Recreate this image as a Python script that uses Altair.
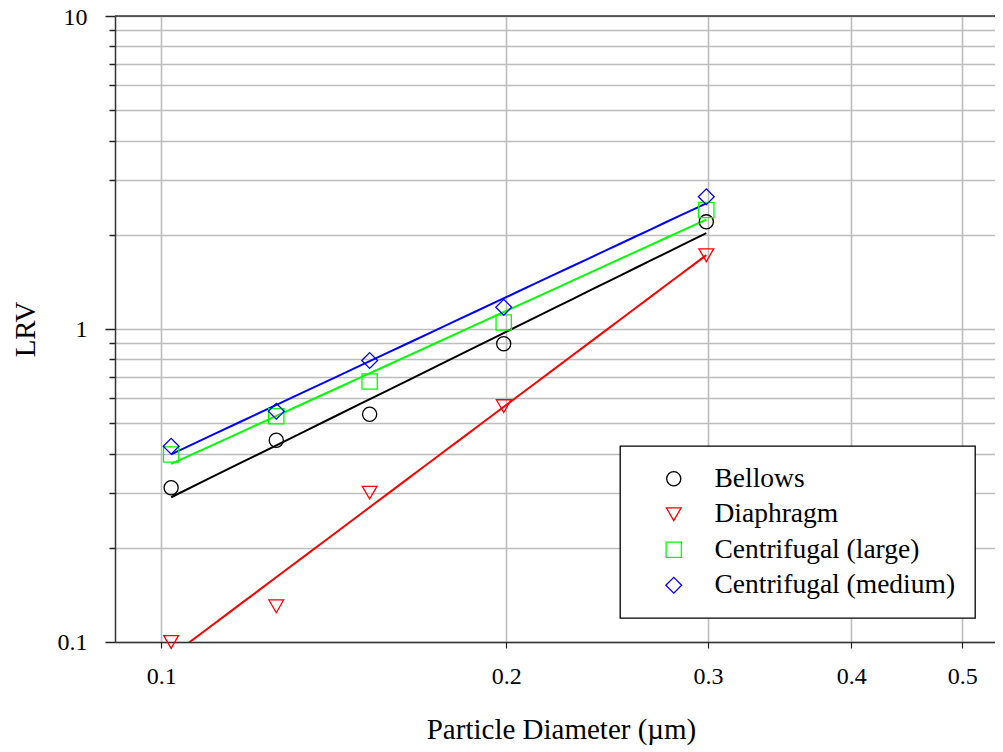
import altair as alt
import pandas as pd

# ---- data ----
diameter = [0.102, 0.126, 0.152, 0.199, 0.299]
bellows = [0.311, 0.441, 0.534, 0.897, 2.20]
diaphragm = [0.100, 0.130, 0.300, 0.567, 1.72]
centrifugal_large = [0.397, 0.526, 0.680, 1.049, 2.40]
centrifugal_medium = [0.422, 0.546, 0.793, 1.173, 2.646]

series = ["Bellows", "Diaphragm", "Centrifugal (large)", "Centrifugal (medium)"]
colors = ["#000000", "#ff0000", "#00ff00", "#0000ff"]
shapes = ["circle", "triangle-down", "square", "diamond"]
sizes = [200, 250, 196, 340]

x_ticks = [0.1, 0.2, 0.3, 0.4, 0.5]
y_ticks = [0.1, 0.2, 0.3, 0.4, 0.5, 0.6, 0.7, 0.8, 0.9,
           1, 2, 3, 4, 5, 6, 7, 8, 9, 10]

values = [bellows, diaphragm, centrifugal_large, centrifugal_medium]
rows = []
for name, vals in zip(series, values):
    for d, v in zip(diameter, vals):
        rows.append({"series": name, "d": d, "lrv": v})
df = pd.DataFrame(rows)

FONT = "Liberation Serif"
W, H = 880, 626
GRID = "#bdbdbd"

xscale = alt.Scale(type="log", domain=[0.09112, 0.5341], nice=False)
yscale = alt.Scale(type="log", domain=[0.1, 10], nice=False)
cscale = alt.Scale(domain=series, range=colors)
sscale = alt.Scale(domain=series, range=shapes)
zscale = alt.Scale(domain=series, range=sizes)

xaxis = alt.Axis(
    title="Particle Diameter (µm)", values=x_ticks, format="~g",
    grid=True, gridColor=GRID, gridWidth=1.6,
    domainColor="#333333", domainWidth=1.5,
    tickColor="#222222", tickSize=6, tickWidth=1.2,
    labelFont=FONT, labelFontSize=24, labelColor="black", labelPadding=16,
    labelFlush=False,
    titleFont=FONT, titleFontSize=29, titleFontWeight="normal", titleColor="black",
    titleX=446, titleY=96, titleBaseline="alphabetic", titleAnchor="start", titleAlign="center",
)
yaxis = alt.Axis(
    title="LRV", values=y_ticks, format="~g",
    labelExpr="indexof([0.1, 1, 10], datum.value) >= 0 ? datum.label : ''",
    grid=True, gridColor=GRID, gridWidth=1.6,
    domainColor="#333333", domainWidth=1.5,
    tickColor="#222222", tickWidth=1.5,
    tickSize={"condition": {"test": "indexof([0.1, 1, 10], datum.value) >= 0", "value": 10}, "value": 6},
    labelOffset={"condition": {"test": "datum.value == 10", "value": 1}, "value": 0},
    labelFont=FONT, labelFontSize=24, labelColor="black", labelPadding=18,
    labelFlush=False,
    titleFont=FONT, titleFontSize=29, titleFontWeight="normal", titleColor="black",
    titleX=-81, titleY=313, titleAngle=-90, titleBaseline="alphabetic", titleAlign="center",
)

base = alt.Chart(df)

lines = base.transform_regression(
    "d", "lrv", groupby=["series"], method="pow"
).mark_line(clip=True, strokeWidth=2).encode(
    x=alt.X("d:Q", scale=xscale, axis=xaxis),
    y=alt.Y("lrv:Q", scale=yscale, axis=yaxis),
    color=alt.Color("series:N", scale=cscale, legend=None),
)

leg = alt.Legend(
    title=None, orient="none", legendX=505, legendY=430,
    fillColor="white", strokeColor="black",
    padding=19, symbolOffset=21, labelOffset=27, rowPadding=6.5,
    labelFont=FONT, labelFontSize=27.5, labelColor="black", labelLimit=400,
    symbolStrokeWidth=1.3, symbolFillColor="transparent",
)

points = base.mark_point(filled=False, strokeWidth=1.3, opacity=1).encode(
    x=alt.X("d:Q", scale=xscale),
    y=alt.Y("lrv:Q", scale=yscale),
    color=alt.Color("series:N", scale=cscale, legend=leg),
    shape=alt.Shape("series:N", scale=sscale, legend=leg),
    size=alt.Size("series:N", scale=zscale, legend=leg),
)

top_border = alt.Chart(pd.DataFrame({"v": [10]})).mark_rule(
    color="#333333", strokeWidth=1.5
).encode(y=alt.Y("v:Q", scale=yscale))

chart = alt.layer(lines, points, top_border).resolve_legend(
    color="independent", shape="independent", size="independent"
).properties(
    width=W, height=H,
    autosize=alt.AutoSizeParams(type="none"),
    padding={"left": 107, "top": 8, "right": 0, "bottom": 104},
).configure_view(stroke=None).configure(background="white").configure_legend(
    strokeWidth=1.3, cornerRadius=0
)

chart.save("out.html", embed_options={"renderer": "svg", "actions": False})
